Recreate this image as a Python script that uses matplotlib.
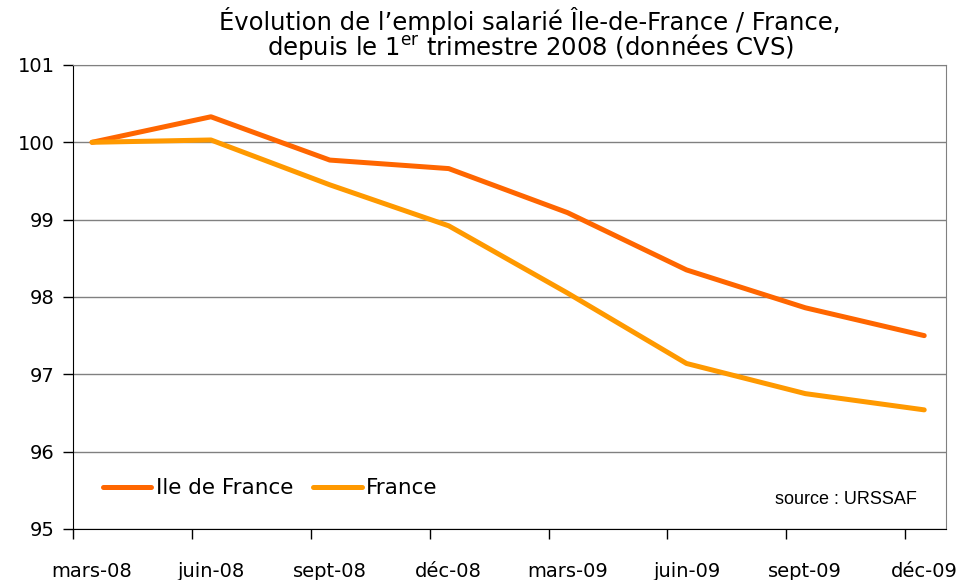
import numpy as np
import matplotlib
matplotlib.use("Agg")
from matplotlib import pyplot as plt

# données (base 100 au 1er trimestre 2008)
trimestres = ["mars-08", "juin-08", "sept-08", "déc-08", "mars-09", "juin-09", "sept-09", "déc-09"]
idf = [100.0, 100.33, 99.77, 99.66, 99.09, 98.35, 97.86, 97.50]
france = [100.0, 100.03, 99.45, 98.92, 98.05, 97.14, 96.75, 96.54]

plt.rcParams["font.family"] = ["DejaVu Sans"]

fig = plt.figure(figsize=(9.61, 5.8), dpi=100)
ax = fig.add_axes([0.076, 0.088, 0.908, 0.8])

x = np.arange(len(trimestres))
ax.plot(x, idf, color="#FF6600", lw=3.6, label="Ile de France", solid_capstyle="round")
ax.plot(x, france, color="#FF9900", lw=3.6, label="France", solid_capstyle="round")

ax.set_ylim(95, 101)
ax.set_xlim(-0.16, 7.18)
ax.set_yticks(range(95, 102))
ax.grid(axis="y", color="#808080", lw=1)
ax.set_axisbelow(True)

# graduations décalées par rapport aux points, libellés sous les points
ax.set_xticks(x - 0.16)
ax.set_xticklabels([])
ax.set_xticks(x, minor=True)
ax.set_xticklabels(trimestres, minor=True)
ax.tick_params(axis="x", which="major", direction="out", length=7, width=1)
ax.tick_params(axis="x", which="minor", length=0, pad=24, labelsize=14)
ax.tick_params(axis="y", direction="out", length=7, width=1, labelsize=14, pad=6)

ax.spines["left"].set_color("black")
ax.spines["bottom"].set_color("black")
ax.spines["top"].set_color("#808080")
ax.spines["right"].set_color("#808080")

leg = ax.legend(loc="lower left", bbox_to_anchor=(0.012, 0.024), ncol=2, frameon=False,
                fontsize=15.5, handlelength=2.25, handletextpad=0.2, columnspacing=0.95)

ax.text(0.967, 0.045, "source : URSSAF", transform=ax.transAxes, ha="right", va="bottom",
        fontsize=13, family="Liberation Sans")

fig.text(0.5515, 0.9405, "Évolution de l\u2019emploi salarié Île-de-France / France,\n"
         "depuis le 1$^{\\mathrm{er}}$ trimestre 2008 (données CVS)",
         ha="center", va="center", fontsize=17.5, linespacing=0.88)

fig.savefig("out.png", dpi=100)
